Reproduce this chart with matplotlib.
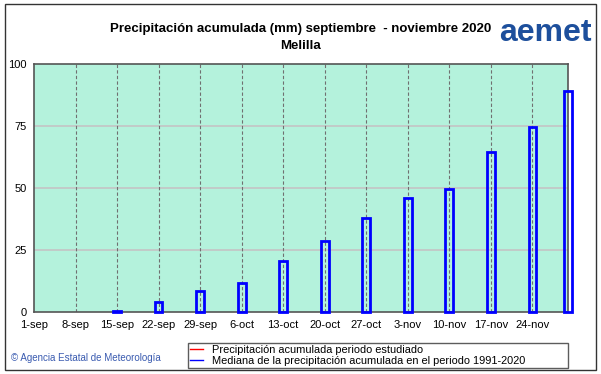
import matplotlib.pyplot as plt
from matplotlib.lines import Line2D
from matplotlib.patches import Rectangle

plt.rcParams['font.family'] = ['Liberation Sans', 'DejaVu Sans']

# dias desde el 1 de septiembre
dias = [14, 21, 28, 35, 42, 49, 56, 63, 70, 77, 84, 90]
mediana = [0.3, 4.0, 8.5, 11.5, 20.5, 28.5, 38.0, 46.0, 49.5, 64.5, 74.8, 89.0]
tick_dias = [0, 7, 14, 21, 28, 35, 42, 49, 56, 63, 70, 77, 84]
tick_labels = ['1-sep', '8-sep', '15-sep', '22-sep', '29-sep', '6-oct', '13-oct',
               '20-oct', '27-oct', '3-nov', '10-nov', '17-nov', '24-nov']

fig = plt.figure(figsize=(6.01, 3.74), dpi=100)
fig.patches.append(Rectangle((0.008, 0.012), 0.984, 0.976, transform=fig.transFigure,
                             fill=False, edgecolor='#333333', lw=1))

ax = fig.add_axes([0.0566, 0.1658, 0.8885, 0.663])
ax.set_facecolor('#b4f2dc')
ax.set_xlim(0, 90)
ax.set_ylim(0, 100)

# rejilla
for y in [25, 50, 75]:
    ax.axhline(y, color='#c4c4c4', lw=1.2, zorder=1)
for d in tick_dias[1:]:
    ax.axvline(d, color='#707070', lw=0.8, ls=(0, (3, 2)), zorder=1)

ax.bar(dias, mediana, width=1.3, facecolor='none', edgecolor='#0000ff',
       lw=2, zorder=3, clip_on=False)

ax.set_xticks(tick_dias)
ax.set_xticklabels(tick_labels, fontsize=8)
ax.set_yticks([0, 25, 50, 75, 100])
ax.set_yticklabels(['0', '25', '50', '75', '100'], fontsize=8)
ax.tick_params(length=0, pad=6)
ax.tick_params(axis='y', pad=5)
for s in ax.spines.values():
    s.set_color('#555555')
    s.set_linewidth(1.2)

fig.text(0.5, 0.915, 'Precipitación acumulada (mm) septiembre  - noviembre 2020',
         ha='center', fontsize=9.5, fontweight='bold')
fig.text(0.5, 0.87, 'Melilla', ha='center', fontsize=9.5, fontweight='bold')
fig.text(0.985, 0.89, 'aemet', ha='right', fontsize=23, fontweight='bold', color='#1d4f9c')

fig.text(0.018, 0.035, '© Agencia Estatal de Meteorología', fontsize=7, color='#3a5bb0')

handles = [Line2D([], [], color='#ff0000', lw=1),
           Line2D([], [], color='#0000ff', lw=1)]
fig.legend(handles, ['Precipitación acumulada periodo estudiado',
                     'Mediana de la precipitación acumulada en el periodo 1991-2020'],
           loc='lower left', bbox_to_anchor=(0.313, 0.016, 0.632, 0.088), mode='expand',
           fontsize=7.9, frameon=True, fancybox=False, edgecolor='#333333',
           handlelength=1.2, borderpad=0.2, labelspacing=0.05, borderaxespad=0)

fig.savefig('out.png', dpi=100)
plt.close()
